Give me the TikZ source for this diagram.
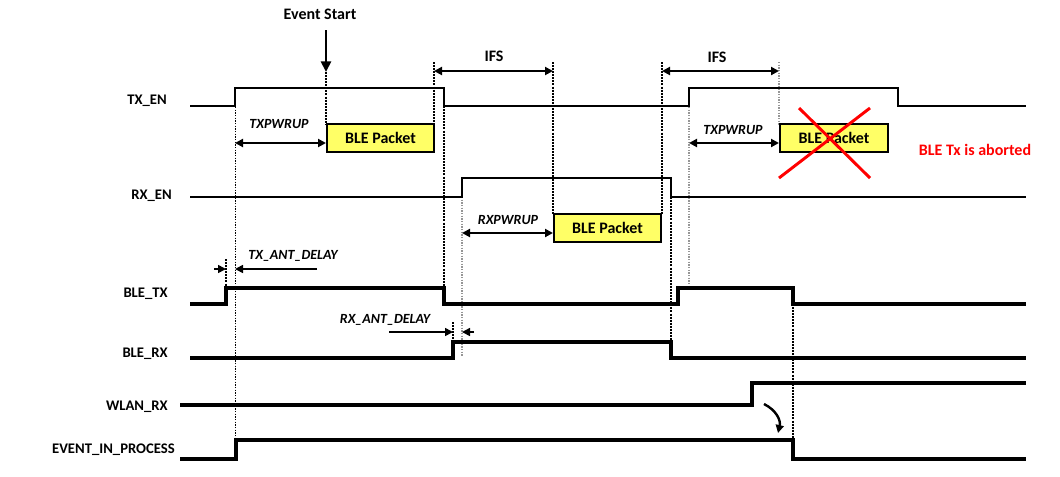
\documentclass[tikz,border=0pt]{standalone}
\usepackage{fontspec}
\setmainfont{Carlito}
\usetikzlibrary{arrows.meta}
\definecolor{pktyellow}{RGB}{255,255,102}
\definecolor{dotgray}{RGB}{150,150,150}
\tikzset{
  sig/.style={line width=1.5pt, line join=miter},
  thicksig/.style={line width=3pt, line join=miter},
  lbl/.style={font=\fontsize{11}{12}\selectfont\bfseries, anchor=east, inner sep=0pt},
  pkt/.style={draw, line width=1.5pt, fill=pktyellow, minimum width=80.5pt, minimum height=21pt, inner sep=0pt, font=\fontsize{12}{13}\selectfont\bfseries},
  dim/.style={line width=1.5pt, {Triangle[length=6pt,width=6pt]}-{Triangle[length=6pt,width=6pt]}},
  dimr/.style={line width=1.2pt, -{Triangle[length=6pt,width=6pt]}},
  itl/.style={font=\fontsize{10.5}{12}\selectfont\bfseries\itshape, inner sep=0pt},
  hdr/.style={font=\fontsize{12}{13}\selectfont\bfseries, inner sep=0pt},
  vdash/.style={line width=1pt, dash pattern=on 1.5pt off 0.8pt},
  vgray/.style={line width=1pt, dotgray, dash pattern=on 1pt off 1pt},
  vfine/.style={line width=0.6pt, dash pattern=on 1pt off 1pt},
}
\begin{document}
\begin{tikzpicture}[x=0.75pt,y=-0.75pt]
\useasboundingbox (0,0) rectangle (1060,476);

% signal labels
\node[lbl] (ltx) at (167,101) {TX\_EN};
\node[lbl] (lrx) at (172,196) {RX\_EN};
\node[lbl] (lbtx) at (168,294) {BLE\_TX};
\node[lbl] (lbrx) at (168,354) {BLE\_RX};
\node[lbl] (lwl) at (168,407) {WLAN\_RX};
\node[lbl] (lev) at (175,450) {EVENT\_IN\_PROCESS};

% vertical guide lines
\draw[vfine] (235,107) -- (235,440);
\draw[vdash] (326,72) -- (326,125);
\draw[vdash] (434,62) -- (434,125);
\draw[vdash] (444,106) -- (444,296);
\draw[vdash] (553,62) -- (553,214);
\draw[vdash] (662,62) -- (662,214);
\draw[vdash] (671,197) -- (671,350);
\draw[vgray] (462,197) -- (462,356);
\draw[vgray] (689,107) -- (689,287);
\draw[vgray] (779,62) -- (779,125);
\draw[vdash] (793,304) -- (793,440);
\draw[vdash] (226,259) -- (226,287);
\draw[vdash] (453,322) -- (453,342);

% signals
\draw[sig] (190,106) -| (235,88) -| (444,106) -| (689,88) -| (898,106) -- (1026,106);
\draw[sig] (190,197) -| (462,178) -| (671,197) -- (1026,197);
\draw[thicksig] (190,304) -| (226,287.5) -| (444,304) -| (678,287.5) -| (793,304) -- (1026,304);
\draw[thicksig] (190,358) -| (453,342) -| (671,358) -- (1026,358);
\draw[thicksig] (180,405) -| (752,383) -- (1026,383);
\draw[thicksig] (180,459) -| (236,440) -| (793,459) -- (1026,459);

% packets
\node[pkt] (p1) at (380.5,138) {BLE Packet};
\node[pkt] (p2) at (607.5,227.5) {BLE Packet};
\node[pkt] (p3) at (834,138) {BLE Packet};

% aborted cross
\coordinate (xa) at (799,108);
\coordinate (xb) at (870,178);
\coordinate (xc) at (779,178);
\coordinate (xd) at (870,108);
\draw[red, line width=2.2pt] (xa) -- (xb);
\draw[red, line width=2.2pt] (xc) -- (xd);
\node[hdr, text=red] (abort) at (975,150) {BLE Tx is aborted};

% event start
\node[hdr] (evs) at (320,14) {Event Start};
\coordinate (evt) at (326,72);
\draw[line width=2pt, -{Triangle[length=8pt,width=7.5pt]}] (326,30) -- (evt);

% IFS
\coordinate (i1a) at (434,71);
\coordinate (i1b) at (553,71);
\draw[dim] (i1a) -- (i1b);
\node[hdr] (ifs1) at (494,56) {IFS};
\coordinate (i2a) at (662,71);
\coordinate (i2b) at (779,71);
\draw[dim] (i2a) -- (i2b);
\node[hdr] (ifs2) at (717,57) {IFS};

% power-up
\coordinate (t1a) at (235,143);
\coordinate (t1b) at (326,143);
\draw[dim] (t1a) -- (t1b);
\node[itl] (txp1) at (279,124) {TXPWRUP};
\coordinate (t2a) at (689,143);
\coordinate (t2b) at (779,143);
\draw[dim] (t2a) -- (t2b);
\node[itl] (txp2) at (733,130) {TXPWRUP};
\coordinate (r1a) at (462,233);
\coordinate (r1b) at (553,233);
\draw[dim] (r1a) -- (r1b);
\node[itl] (rxp) at (508,220) {RXPWRUP};

% antenna delays
\node[itl] (tad) at (293,256) {TX\_ANT\_DELAY};
\draw[dimr] (214,269) -- (226,269);
\draw[dimr] (317,269) -- (235,269);
\node[itl] (rad) at (385,320) {RX\_ANT\_DELAY};
\draw[dimr] (389,332) -- (453,332);
\draw[dimr] (474,332) -- (462,332);

% WLAN causes abort
\draw[line width=1.8pt, -{Triangle[length=6pt,width=6pt]}] (764,404) .. controls (776,410) and (781,420) .. (778,433);
\end{tikzpicture}
\end{document}
